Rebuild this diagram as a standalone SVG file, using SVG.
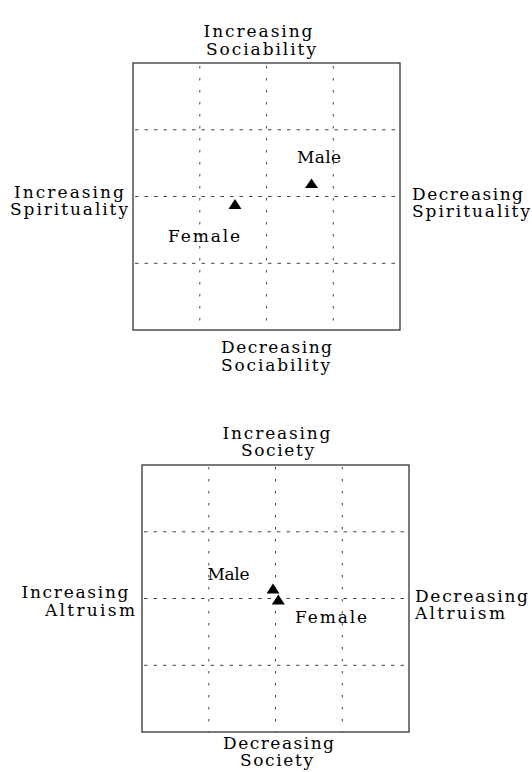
<svg xmlns="http://www.w3.org/2000/svg" width="532" height="772" viewBox="0 0 532 772">
<style>
.t{font-family:"DejaVu Serif","Liberation Serif",serif;font-size:17px;fill:#000}
.frame{fill:none;stroke:#333;stroke-width:1.3}
.gh{stroke:#444;stroke-width:1;stroke-dasharray:3.5 6}
.gv{stroke:#444;stroke-width:1;stroke-dasharray:2.5 9.5}
.tri{fill:#000}
</style>
<rect width="532" height="772" fill="#fff"/>

<g id="chart1">
  <g id="chart1-grid">
    <line class="gv" x1="199.8" y1="66" x2="199.8" y2="330"/>
    <line class="gv" x1="266.5" y1="66" x2="266.5" y2="330"/>
    <line class="gv" x1="333.3" y1="66" x2="333.3" y2="330"/>
    <line class="gh" x1="135" y1="129.8" x2="400" y2="129.8"/>
    <line class="gh" x1="135" y1="196.5" x2="400" y2="196.5"/>
    <line class="gh" x1="135" y1="263.3" x2="400" y2="263.3"/>
  </g>
  <rect id="chart1-frame" class="frame" x="133" y="63" width="267" height="267"/>
  <g id="chart1-axes">
    <text class="t"><tspan x="203.5" y="36.7" textLength="109" lengthAdjust="spacing">Increasing</tspan><tspan x="206" y="54.5" textLength="110" lengthAdjust="spacing">Sociability</tspan></text>
    <text class="t"><tspan x="221" y="353.3" textLength="111" lengthAdjust="spacing">Decreasing</tspan><tspan x="221" y="370.8" textLength="109" lengthAdjust="spacing">Sociability</tspan></text>
    <text class="t"><tspan x="14" y="197.5" textLength="110" lengthAdjust="spacing">Increasing</tspan><tspan x="10" y="215" textLength="118" lengthAdjust="spacing">Spirituality</tspan></text>
    <text class="t"><tspan x="412" y="199.5" textLength="111" lengthAdjust="spacing">Decreasing</tspan><tspan x="412" y="217" textLength="118" lengthAdjust="spacing">Spirituality</tspan></text>
  </g>
  <g id="chart1-male">
    <polygon class="tri" points="311.5,178.5 318,188 305,188"/>
    <text class="t" x="297" y="163.3" textLength="44" lengthAdjust="spacing">Male</text>
  </g>
  <g id="chart1-female">
    <polygon class="tri" points="235,199 241.5,209 228.5,209"/>
    <text class="t" x="168" y="241.7" textLength="72" lengthAdjust="spacing">Female</text>
  </g>
</g>

<g id="chart2">
  <g id="chart2-grid">
    <line class="gv" x1="208.8" y1="467" x2="208.8" y2="732"/>
    <line class="gv" x1="275.5" y1="467" x2="275.5" y2="732"/>
    <line class="gv" x1="342.3" y1="467" x2="342.3" y2="732"/>
    <line class="gh" x1="144" y1="531.8" x2="409" y2="531.8"/>
    <line class="gh" x1="144" y1="598.5" x2="409" y2="598.5"/>
    <line class="gh" x1="144" y1="665.3" x2="409" y2="665.3"/>
  </g>
  <rect id="chart2-frame" class="frame" x="142" y="465" width="267" height="267"/>
  <g id="chart2-axes">
    <text class="t"><tspan x="222.5" y="439.3" textLength="108" lengthAdjust="spacing">Increasing</tspan><tspan x="241" y="456.3" textLength="73" lengthAdjust="spacing">Society</tspan></text>
    <text class="t"><tspan x="223" y="749" textLength="111" lengthAdjust="spacing">Decreasing</tspan><tspan x="240" y="765.5" textLength="73" lengthAdjust="spacing">Society</tspan></text>
    <text class="t"><tspan x="21.5" y="598.3" textLength="107" lengthAdjust="spacing">Increasing</tspan><tspan x="45" y="615.5" textLength="90" lengthAdjust="spacing">Altruism</tspan></text>
    <text class="t"><tspan x="415" y="602" textLength="113" lengthAdjust="spacing">Decreasing</tspan><tspan x="415" y="618.5" textLength="90" lengthAdjust="spacing">Altruism</tspan></text>
  </g>
  <g id="chart2-male">
    <polygon class="tri" points="273,583.5 279.5,593.5 266.5,593.5"/>
    <text class="t" x="207.5" y="580" textLength="42" lengthAdjust="spacing">Male</text>
  </g>
  <g id="chart2-female">
    <polygon class="tri" points="278.3,594.5 284.8,604.5 271.8,604.5"/>
    <text class="t" x="295" y="623.3" textLength="72" lengthAdjust="spacing">Female</text>
  </g>
</g>
</svg>
